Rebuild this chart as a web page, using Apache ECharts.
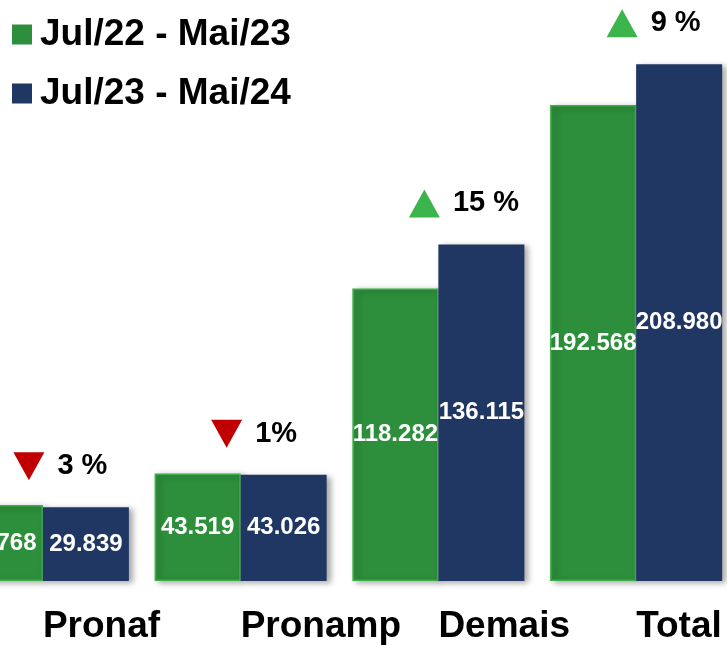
<!DOCTYPE html>
<html>
<head>
<meta charset="utf-8">
<script src="https://cdn.jsdelivr.net/npm/echarts@6/dist/echarts.min.js"></script>
<style>
  html, body { margin: 0; padding: 0; background: #fff; }
  #chart { width: 727px; height: 645px; }
</style>
</head>
<body>
<div id="chart"></div>
<script>
var categories = ['Pronaf', 'Pronamp', 'Demais', 'Total'];
var seriesNames = ['Jul/22 - Mai/23', 'Jul/23 - Mai/24'];
var prevValues = [30768, 43519, 118282, 192568];
var currValues = [29839, 43026, 136115, 208980];
var changeLabels = ['3 %', '1%', '15 %', '9 %'];

var FONT = '"Liberation Sans", Arial, sans-serif';
var GREEN = '#2d8f3b';
var BLUE = '#213763';

// formato pt-BR: 30768 -> 30.768
function fmt(v) {
    return String(v).replace(/\B(?=(\d{3})+(?!\d))/g, '.');
}

var barShadow = {
    shadowColor: 'rgba(0,0,0,0.35)',
    shadowBlur: 6,
    shadowOffsetX: 4,
    shadowOffsetY: 2
};

var valueLabel = {
    show: true,
    position: 'inside',
    color: '#fff',
    fontFamily: FONT,
    fontWeight: 'bold',
    fontSize: 24,
    formatter: function (p) { return fmt(p.value); }
};

// setas de variacao em cima de cada grupo
var marks = [];
for (var i = 0; i < categories.length; i++) {
    var up = currValues[i] >= prevValues[i];
    marks.push({
        coord: [i, currValues[i]],
        symbol: up ? 'triangle' : 'path://M0,0 L2,0 L1,1.9 Z',
        itemStyle: { color: up ? '#3bb44b' : '#c00000', shadowBlur: 0, shadowOffsetX: 0, shadowOffsetY: 0 },
        label: { formatter: changeLabels[i] }
    });
}

var chart = echarts.init(document.getElementById('chart'));
chart.setOption({
    animation: false,
    backgroundColor: '#fff',
    legend: {
        orient: 'vertical',
        left: 12,
        top: 16,
        padding: 0,
        itemGap: 22,
        itemWidth: 20,
        itemHeight: 20,
        icon: 'rect',
        itemStyle: { shadowBlur: 0, shadowOffsetX: 0, shadowOffsetY: 0, borderWidth: 0 },
        textStyle: {
            fontFamily: FONT,
            fontWeight: 'bold',
            fontSize: 37,
            lineHeight: 36,
            color: '#000',
            padding: [0, 0, 0, 3]
        },
        data: seriesNames
    },
    grid: { left: -56, right: -8, top: 0, bottom: 64, outerBoundsMode: 'none', containLabel: false },
    xAxis: {
        type: 'category',
        data: categories,
        axisLine: { show: false },
        axisTick: { show: false },
        axisLabel: {
            interval: 0,
            hideOverlap: false,
            align: 'left',
            margin: 28,
            color: '#000',
            fontFamily: FONT,
            fontWeight: 'bold',
            fontSize: 37,
            lineHeight: 36
        }
    },
    yAxis: {
        type: 'value',
        show: false,
        min: 0,
        max: 235000,
        splitLine: { show: false }
    },
    series: [
        {
            name: seriesNames[0],
            type: 'bar',
            data: prevValues,
            barGap: '0%',
            barCategoryGap: '13%',
            itemStyle: Object.assign({ color: GREEN, borderColor: '#3aae47', borderWidth: 1.5 }, barShadow),
            label: valueLabel
        },
        {
            name: seriesNames[1],
            type: 'bar',
            data: currValues,
            barGap: '0%',
            barCategoryGap: '13%',
            itemStyle: Object.assign({ color: BLUE }, barShadow),
            label: valueLabel,
            markPoint: {
                symbolSize: [31, 28],
                symbolOffset: [-57, -41],
                label: {
                    show: true,
                    position: 'right',
                    distance: 13,
                    color: '#000',
                    fontFamily: FONT,
                    fontWeight: 'bold',
                    fontSize: 29
                },
                data: marks
            }
        }
    ]
});
</script>
</body>
</html>
